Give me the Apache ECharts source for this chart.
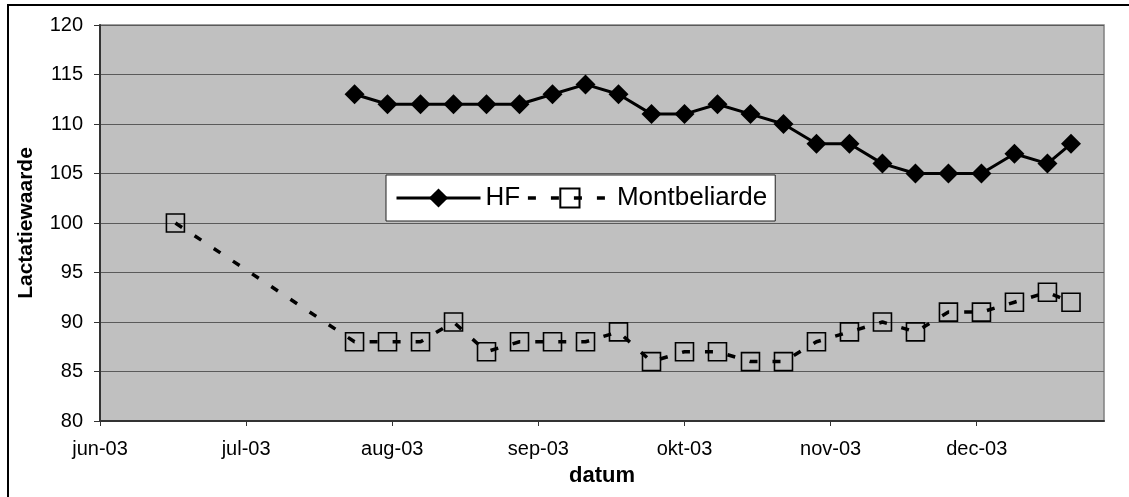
<!DOCTYPE html>
<html>
<head>
<meta charset="utf-8">
<script src="https://cdn.jsdelivr.net/npm/echarts@6/dist/echarts.min.js"></script>
<style>
html,body{margin:0;padding:0;background:#fff;}
#chart{width:1129px;height:497px;}
</style>
</head>
<body>
<div id="chart"></div>
<script>
// ---- data ----
var hfDates = ['2003-07-25','2003-08-01','2003-08-08','2003-08-15','2003-08-22','2003-08-29',
  '2003-09-05','2003-09-12','2003-09-19','2003-09-26','2003-10-03','2003-10-10','2003-10-17',
  '2003-10-24','2003-10-31','2003-11-07','2003-11-14','2003-11-21','2003-11-28','2003-12-05',
  '2003-12-12','2003-12-19','2003-12-24'];
var hfValues = [113,112,112,112,112,112,113,114,113,111,111,112,111,110,108,108,106,105,105,105,107,106,108];

var mbDates = ['2003-06-17','2003-07-25','2003-08-01','2003-08-08','2003-08-15','2003-08-22','2003-08-29',
  '2003-09-05','2003-09-12','2003-09-19','2003-09-26','2003-10-03','2003-10-10','2003-10-17',
  '2003-10-24','2003-10-31','2003-11-07','2003-11-14','2003-11-21','2003-11-28','2003-12-05',
  '2003-12-12','2003-12-19','2003-12-24'];
var mbValues = [100,88,88,88,90,87,88,88,88,89,86,87,87,86,86,88,89,90,89,91,91,92,93,92];

var axisStartDate = '2003-06-01';
var axisEndDate = '2003-12-31';
var monthNames = ['jan','feb','mrt','apr','mei','jun','jul','aug','sep','okt','nov','dec'];
var seriesNames = ['HF','Montbeliarde'];

// ---- helpers ----
function toUTC(s){ var p = s.split('-'); return Date.UTC(+p[0], +p[1]-1, +p[2]); }
var DAY = 86400000;
var base = toUTC(axisStartDate);
function dayOffset(s){ return Math.round((toUTC(s) - base) / DAY); }
var axisMax = dayOffset(axisEndDate);

function pairs(dates, vals){ return dates.map(function(d,i){ return [dayOffset(d), vals[i]]; }); }

var FONT = '"Liberation Sans", Arial, sans-serif';

var chart = echarts.init(document.getElementById('chart'), null, {renderer:'canvas'});
chart.setOption({
  animation: false,
  backgroundColor: '#ffffff',
  textStyle: { fontFamily: FONT },
  grid: {
    left: 100, right: 25, top: 25, bottom: 76,
    show: true, backgroundColor: '#C0C0C0', borderColor: '#808080', borderWidth: 1.5
  },
  graphic: [{
    type: 'rect', silent: true, z: 100,
    shape: { x: 8, y: 5, width: 1140, height: 510 },
    style: { fill: 'none', stroke: '#000', lineWidth: 2 }
  }],
  legend: {
    left: 386, top: 175,
    backgroundColor: '#ffffff', borderColor: '#222', borderWidth: 1,
    padding: [10, 8, 10, 9],
    itemWidth: 84, itemHeight: 24, itemGap: 6,
    lineStyle: { width: 'inherit' },
    textStyle: { fontSize: 26, color: '#000', fontFamily: FONT },
    data: seriesNames
  },
  xAxis: {
    type: 'value', min: 0, max: axisMax, interval: 31,
    name: 'datum', nameLocation: 'middle', nameGap: 44,
    nameTextStyle: { fontSize: 22, fontWeight: 'bold', color: '#000', fontFamily: FONT },
    axisLine: { show: true, lineStyle: { color: '#333', width: 2 } },
    axisTick: { show: true, length: 5, lineStyle: { color: '#333', width: 1 } },
    splitLine: { show: false },
    axisLabel: {
      fontSize: 20, color: '#000', margin: 18, showMaxLabel: false, fontFamily: FONT,
      formatter: function(v){
        if (v >= axisMax) return '';
        var d = new Date(base + v * DAY);
        return monthNames[d.getUTCMonth()] + '-' + String(d.getUTCFullYear()).slice(2);
      }
    }
  },
  yAxis: {
    type: 'value', min: 80, max: 120, interval: 5,
    name: 'Lactatiewaarde', nameLocation: 'middle', nameGap: 63, nameRotate: 90,
    nameTextStyle: { fontSize: 21, fontWeight: 'bold', color: '#000', fontFamily: FONT },
    axisLine: { show: true, lineStyle: { color: '#333', width: 2 } },
    axisTick: { show: true, length: 6, lineStyle: { color: '#333', width: 1 } },
    splitLine: { show: true, lineStyle: { color: '#5a5a5a', width: 1 } },
    axisLabel: { fontSize: 20, color: '#000', margin: 17, fontFamily: FONT }
  },
  series: [
    {
      name: seriesNames[0], type: 'line', data: pairs(hfDates, hfValues),
      symbol: 'diamond', symbolSize: 20,
      itemStyle: { color: '#000' },
      lineStyle: { color: '#000', width: 3 },
      z: 3
    },
    {
      name: seriesNames[1], type: 'line', data: pairs(mbDates, mbValues),
      symbol: 'rect', symbolSize: 18,
      itemStyle: { color: 'rgba(0,0,0,0)', borderColor: '#000', borderWidth: 1.6 },
      lineStyle: { color: '#000', width: 3.5, type: [8, 15] },
      z: 2
    }
  ]
});
</script>
</body>
</html>
